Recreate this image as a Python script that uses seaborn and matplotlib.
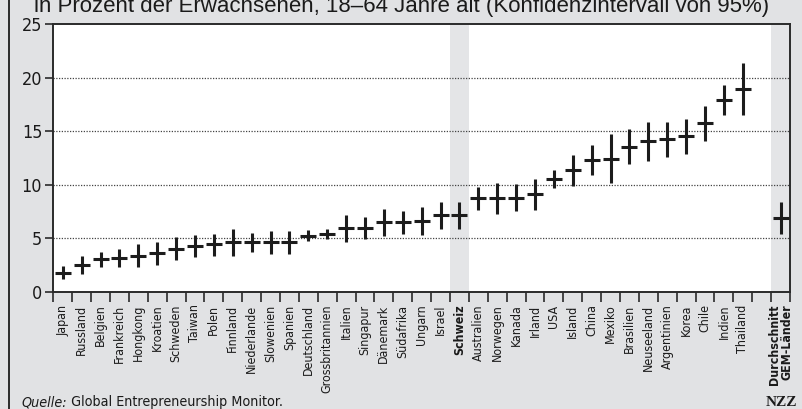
import numpy as np
import pandas as pd
import matplotlib
matplotlib.use("Agg")
import matplotlib.pyplot as plt
from matplotlib import font_manager
from matplotlib.lines import Line2D
import seaborn as sns

# Early-stage entrepreneurial activity, share of adults 18-64, with 95% CI
countries = ["Japan", "Russland", "Belgien", "Frankreich", "Hongkong", "Kroatien",
             "Schweden", "Taiwan", "Polen", "Finnland", "Niederlande", "Slowenien",
             "Spanien", "Deutschland", "Grossbritannien", "Italien", "Singapur",
             "Dänemark", "Südafrika", "Ungarn", "Israel", "Schweiz", "Australien",
             "Norwegen", "Kanada", "Irland", "USA", "Island", "China", "Mexiko",
             "Brasilien", "Neuseeland", "Argentinien", "Korea", "Chile", "Indien",
             "Thailand"]
mid = [1.8, 2.5, 3.05, 3.2, 3.4, 3.65, 4.05, 4.3, 4.45, 4.7, 4.7, 4.7, 4.65, 5.25,
       5.4, 5.95, 5.95, 6.55, 6.55, 6.65, 7.15, 7.15, 8.75, 8.75, 8.8, 9.1, 10.55,
       11.35, 12.3, 12.45, 13.55, 14.05, 14.25, 14.55, 15.75, 17.9, 18.95]
low = [1.2, 1.65, 2.35, 2.35, 2.35, 2.55, 2.95, 3.25, 3.4, 3.4, 3.75, 3.55, 3.55, 4.8,
       4.95, 4.7, 4.9, 5.25, 5.45, 5.35, 5.9, 5.9, 7.65, 7.3, 7.6, 7.65, 9.7,
       9.9, 10.9, 10.2, 11.9, 12.2, 12.6, 12.85, 14.05, 16.5, 16.5]
high = [2.45, 3.4, 3.7, 4.05, 4.5, 4.7, 5.15, 5.35, 5.45, 5.85, 5.5, 5.7, 5.7, 5.75,
        5.9, 7.15, 7.0, 7.75, 7.6, 7.9, 8.35, 8.35, 9.8, 10.15, 10.1, 10.55, 11.4,
        12.75, 13.75, 14.7, 15.2, 15.85, 15.85, 16.15, 17.35, 19.35, 21.35]

avg_label = "Durchschnitt\nGEM-Länder"
avg_mid, avg_low, avg_high = 6.9, 5.45, 8.35

highlight = "Schweiz"
yticks = [0, 5, 10, 15, 20, 25]

title = "in Prozent der Erwachsenen, 18–64 Jahre alt (Konfidenzintervall von 95%)"
source_italic = "Quelle:"
source_text = " Global Entrepreneurship Monitor."

# one empty slot separates the countries from the GEM average
labels = countries + [""] + [avg_label]
df = pd.DataFrame({
    "label": countries + [avg_label],
    "mid": mid + [avg_mid],
    "low": low + [avg_low],
    "high": high + [avg_high],
})
df["pos"] = [labels.index(l) for l in df["label"]]

sns.set_theme(style="white")

# pick a condensed sans face if one is installed
entries = font_manager.fontManager.ttflist
names = {f.name for f in entries}
stretch = "normal"
if "Liberation Sans Narrow" in names:
    narrow_family = "Liberation Sans Narrow"
    label_scale = 1.0
elif any(f.name == "DejaVu Sans" and str(f.stretch) in ("condensed", "semi-condensed")
         for f in entries):
    narrow_family = "DejaVu Sans"
    stretch = "condensed"
    label_scale = 0.85
else:
    narrow_family = "Roboto"
    label_scale = 0.9
plt.rcParams["font.family"] = [narrow_family, "DejaVu Sans"]
plt.rcParams["font.stretch"] = stretch

BG = "#e1e2e4"
BAND = "#e4e5e7"
INK = "#1c1c1c"

fig = plt.figure(figsize=(8.03, 4.09), dpi=100, facecolor=BG)
ax = fig.add_axes([53.3 / 803, 117 / 409, (790 - 53.3) / 803, (292 - 24) / 409])
ax.set_facecolor("white")

n = len(labels)
ax.set_xlim(-0.5, n - 0.5)
ax.set_ylim(0, 25)

# shaded columns for Switzerland and the average
for name in [highlight, avg_label]:
    p = labels.index(name)
    ax.axvspan(p - 0.5, p + 0.5, color=BAND, lw=0, zorder=0)

# dotted gridlines
for y in yticks[1:-1]:
    ax.axhline(y, color="#444444", lw=0.9, ls=(0, (1, 1.2)), zorder=1)

# confidence intervals and point estimates
ax.vlines(df["pos"], df["low"], df["high"], color=INK, lw=2.2, zorder=3)
sns.scatterplot(data=df, x="pos", y="mid", marker="_", s=140, linewidth=2.2,
                color=INK, edgecolor=INK, legend=False, ax=ax, zorder=4)
ax.set_xlabel("")
ax.set_ylabel("")

for s in ax.spines.values():
    s.set_color("#2a2a2a")
    s.set_linewidth(1.4)
    s.set_visible(True)

ax.set_yticks(yticks)
ax.set_yticklabels([str(v) for v in yticks], fontsize=14 * label_scale + 1,
                   color="#1a1a1a")
ax.tick_params(axis="y", direction="out", length=6, width=1.2, color="#2a2a2a", pad=2,
               left=True)

ax.set_xticks(np.arange(n))
ax.set_xticklabels(labels, rotation=90, fontsize=10.5 * label_scale, color="#1a1a1a")
ax.set_xticks(np.arange(n + 1) - 0.5, minor=True)
ax.tick_params(axis="x", which="major", length=0, pad=9, bottom=True)
ax.tick_params(axis="x", which="minor", direction="out", length=7, width=1.2,
               color="#2a2a2a", bottom=True)
for t in ax.get_xticklabels():
    if t.get_text() in (highlight, avg_label):
        t.set_fontweight("bold")
        t.set_multialignment("right")
        t.set_linespacing(1.0)

fig.text(0.5, 1 - 12 / 409, title, ha="center", va="baseline", fontsize=16,
         family=["Liberation Sans", "DejaVu Sans"], stretch="normal", color="#1a1a1a")

base_y = 1 - 406 / 409
q = fig.text(21 / 803, base_y, source_italic, ha="left", va="baseline",
             fontsize=10.3, style="italic", color="#1a1a1a")
fig.canvas.draw()
qx1 = q.get_window_extent().x1 / fig.bbox.width
fig.text(qx1, base_y, source_text, ha="left", va="baseline", fontsize=10.3,
         color="#1a1a1a")
fig.text(797 / 803, base_y, "NZZ", ha="right", va="baseline", fontsize=11,
         fontweight="bold", family=["Liberation Serif", "DejaVu Serif"],
         stretch="normal", color="#1a1a1a")

# left frame rule
fig.add_artist(Line2D([8.5 / 803, 8.5 / 803], [0, 1], transform=fig.transFigure,
                      color="#2a2a2a", lw=1.4))

fig.savefig("out.png", dpi=100, facecolor=BG)
